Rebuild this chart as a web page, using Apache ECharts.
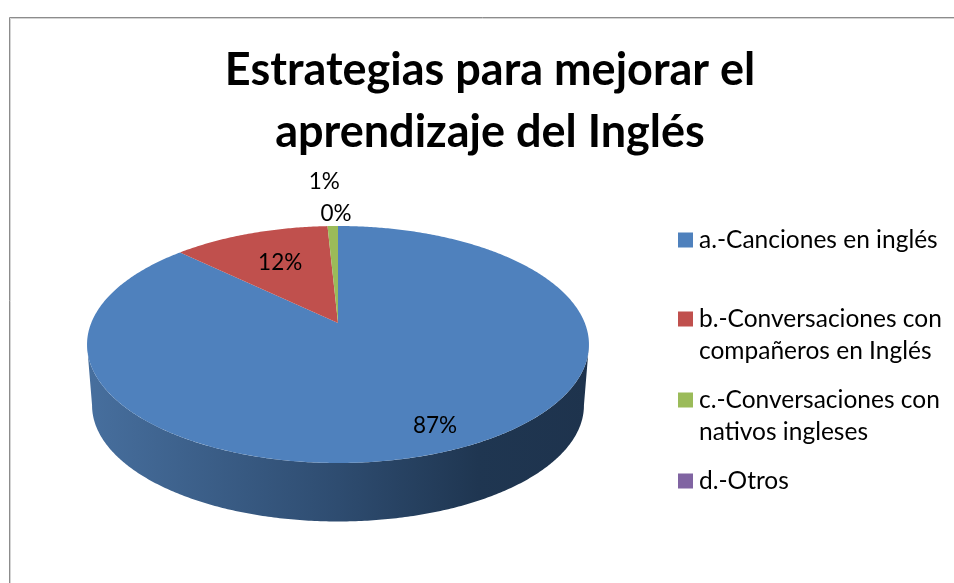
<!DOCTYPE html>
<html><head><meta charset="utf-8">
<style>html,body{margin:0;padding:0;background:#fff}#c{width:954px;height:583px}</style>
<script src="https://cdn.jsdelivr.net/npm/echarts@6/dist/echarts.min.js"></script>
</head><body><div id="c"></div>
<script>
const titleText = 'Estrategias para mejorar el\naprendizaje del Inglés';
const categories = ['a.-Canciones en inglés', 'b.-Conversaciones con\ncompañeros en Inglés', 'c.-Conversaciones con\nnativos ingleses', 'd.-Otros'];
const values = [87.2, 12, 0.8, 0];
const colors = ['#4F81BD', '#C0504D', '#9BBB59', '#8064A2'];

// Tilted-disc projection of the pie
const FONT = 'Lato';
const AX = 246.8, BY = 114.6, K = 0.1814, CX = 338, APEX_Y = 323;
const BASE_SCALE = 0.98, BASE_DROP = 61.3;
const LABEL_RADIAL = [0.82, 0.67, 1.46, 1.13];
const LABEL_NUDGE = [[2, -1], [1, 0], [-6, 0], [-2, 0]];
const total = values.reduce((a, b) => a + b, 0);
const pct = v => Math.round(v / total * 100) + '%';
function proj(t) {
  const u = Math.sin(t), v = Math.cos(t), w = 1 + K * v;
  return [AX * u / w, BY * v / w];
}
const topPt = p => [CX + p[0], APEX_Y - p[1]];
const basePt = p => [CX + BASE_SCALE * p[0], APEX_Y - BASE_SCALE * p[1] + BASE_DROP];
function arc(a, b) {
  const n = Math.max(1, Math.ceil((b - a) / 0.01)), r = [];
  for (let i = 0; i <= n; i++) r.push(a + (b - a) * i / n);
  return r;
}
function makeRender(idx) {
  return function (params, api) {
    const val = api.value(0);
    let before = 0;
    for (let i = 0; i < idx; i++) before += values[i];
    const a = before / total * 2 * Math.PI, b = (before + val) / total * 2 * Math.PI;
    const children = [];
    const fA = Math.acos(-K), fB = 2 * Math.PI - fA;
    const wa = Math.max(a, fA), wb = Math.min(b, fB);
    if (wb > wa) {
      const ts = arc(wa, wb);
      const pts = ts.map(t => topPt(proj(t))).concat(ts.slice().reverse().map(t => basePt(proj(t))));
      children.push({
        type: 'polygon', shape: { points: pts },
        style: { fill: new echarts.graphic.LinearGradient(0, 0, 1, 0, [
          { offset: 0, color: echarts.color.modifyHSL(colors[idx], null, 0.38, 0.45) },
          { offset: 0.5, color: echarts.color.modifyHSL(colors[idx], null, 0.42, 0.31) },
          { offset: 0.78, color: echarts.color.modifyHSL(colors[idx], null, 0.44, 0.22) },
          { offset: 1, color: echarts.color.modifyHSL(colors[idx], null, 0.44, 0.21) }
        ]) }
      });
    }
    if (b > a) {
      children.push({
        type: 'polygon',
        shape: { points: [[CX, APEX_Y]].concat(arc(a, b).map(t => topPt(proj(t)))) },
        style: { fill: colors[idx] }
      });
    }
    const m = proj((a + b) / 2), f = LABEL_RADIAL[idx], nd = LABEL_NUDGE[idx];
    children.push({
      type: 'text', z2: 100,
      style: { x: CX + m[0] * f + nd[0], y: APEX_Y - m[1] * f + nd[1], text: pct(val),
        font: '22.5px ' + FONT, fill: '#000', align: 'center', verticalAlign: 'middle' }
    });
    return { type: 'group', children };
  };
}
const single = 'path://M1 8.5H16V23.5H1Z M0 0H0Z M17 32H17Z';
const dbl = 'path://M1 8.5H16V23.5H1Z M0 0H0Z M17 64H17Z';
const legendTops = [224, 303, 384, 465];
const chart = echarts.init(document.getElementById('c'), null, { renderer: 'canvas' });
chart.setOption({
  animation: false,
  backgroundColor: '#fff',
  title: {
    text: titleText, left: 485, top: 34, textAlign: 'center',
    textStyle: { fontFamily: FONT, fontWeight: 'bold', fontSize: 45, lineHeight: 62, color: '#000' }
  },
  legend: categories.map((c, i) => ({
    data: [c], left: 677, top: legendTops[i], padding: 0,
    itemWidth: 17, itemHeight: c.includes('\n') ? 64 : 32,
    icon: c.includes('\n') ? dbl : single,
    selectedMode: false,
    textStyle: { fontFamily: FONT, fontSize: 24.5, lineHeight: 32, color: '#000', padding: 0 }
  })),
  graphic: [{
    type: 'rect', silent: true, shape: { x: 10.5, y: 18.5, width: 1000, height: 700 },
    style: { fill: 'none', stroke: '#d4d4d4', lineWidth: 1 }
  }, {
    type: 'rect', silent: true, shape: { x: 9.5, y: 17.5, width: 1000, height: 700 },
    style: { fill: 'none', stroke: '#8c8c8c', lineWidth: 1 }
  }],
  series: categories.map((c, i) => ({
    type: 'custom', name: c, coordinateSystem: 'none',
    itemStyle: { color: colors[i] },
    data: [[values[i]]],
    renderItem: makeRender(i)
  }))
});
</script></body></html>
